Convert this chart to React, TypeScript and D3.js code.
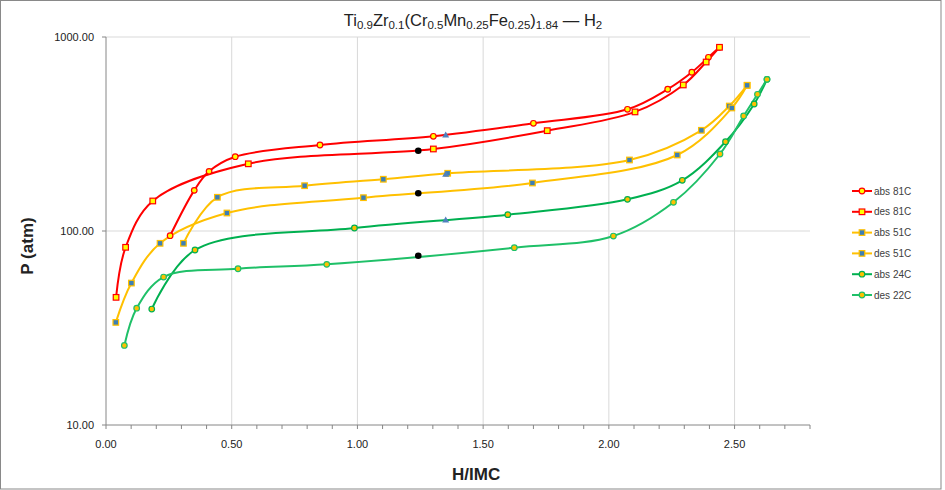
import React from "react";
import * as d3 from "d3";

// [H/IMC, P (atm)]
const abs81: [number, number][] = [
  [0.255, 94.6], [0.351, 162], [0.41, 203], [0.514, 241.5], [0.851, 277.5],
  [1.302, 307.7], [1.7, 359], [2.074, 424], [2.234, 538], [2.33, 658],
  [2.396, 786], [2.44, 885],
];
const des81: [number, number][] = [
  [2.44, 885], [2.387, 743], [2.296, 566], [2.104, 411], [1.755, 329],
  [1.302, 264.7], [0.566, 222], [0.186, 142.8], [0.078, 82.4], [0.04, 45.5],
];
const abs51: [number, number][] = [
  [0.308, 86.4], [0.443, 149.2], [0.79, 171.2], [1.103, 184.8], [1.359, 198.4],
  [2.082, 232.3], [2.368, 330.4], [2.479, 440.7], [2.55, 563.6],
];
const des51: [number, number][] = [
  [2.55, 563.6], [2.489, 430.7], [2.272, 246.5], [1.696, 176.8], [1.024, 148.5],
  [0.481, 123.8], [0.215, 86.4], [0.101, 53.9], [0.039, 33.8],
];
const abs24: [number, number][] = [
  [0.182, 39.6], [0.354, 79.8], [0.988, 103.6], [1.598, 121.4], [2.074, 145.6],
  [2.292, 182.5], [2.464, 288.6], [2.578, 451.6], [2.629, 605],
];
const des22: [number, number][] = [
  [2.629, 605], [2.591, 506.6], [2.536, 391.6], [2.442, 249.4], [2.257, 140.6],
  [2.018, 94.2], [1.624, 82], [0.878, 67.3], [0.525, 63.9], [0.229, 57.9],
  [0.122, 40], [0.073, 25.7],
];
// extra unlabeled points
const midDes: [number, number][] = [[1.242, 259.4], [1.242, 156.4], [1.242, 74.6]];
const midAbs: [number, number][] = [[1.351, 312.6], [1.351, 196], [1.351, 114]];

const xTicks = [0, 0.5, 1, 1.5, 2, 2.5];
const xMinor = d3.range(0, 29).map((i) => i / 10);
const yTicks = [10, 100, 1000];

interface Series {
  name: string;
  data: [number, number][];
  line: string;
  fill: string;
  stroke: string;
  shape: "circle" | "square";
}

const series: Series[] = [
  { name: "abs 81C", data: abs81, line: "#FF0000", fill: "#FFFF00", stroke: "#FF0000", shape: "circle" },
  { name: "des 81C", data: des81, line: "#FF0000", fill: "#FFFF00", stroke: "#FF0000", shape: "square" },
  { name: "abs 51C", data: abs51, line: "#FFC000", fill: "#3D7FB5", stroke: "#FFC000", shape: "square" },
  { name: "des 51C", data: des51, line: "#FFC000", fill: "#3D7FB5", stroke: "#FFC000", shape: "square" },
  { name: "abs 24C", data: abs24, line: "#00B050", fill: "#FFC000", stroke: "#00B050", shape: "circle" },
  { name: "des 22C", data: des22, line: "#1FC068", fill: "#FFC000", stroke: "#1FC068", shape: "circle" },
];

const titleParts: [string, boolean][] = [
  ["Ti", false], ["0.9", true], ["Zr", false], ["0.1", true], ["(Cr", false], ["0.5", true],
  ["Mn", false], ["0.25", true], ["Fe", false], ["0.25", true], [")", false], ["1.84", true],
  [" \u2014 H", false], ["2", true],
];

const Marker = ({ s, x, y }: { s: Series; x: number; y: number }) =>
  s.shape === "circle" ? (
    <circle cx={x} cy={y} r={2.8} fill={s.fill} stroke={s.stroke} strokeWidth={1.2} />
  ) : (
    <rect x={x - 2.8} y={y - 2.8} width={5.6} height={5.6} fill={s.fill} stroke={s.stroke} strokeWidth={1.2} />
  );

export default function App() {
  const W = 942;
  const H = 490;
  const x = d3.scaleLinear().domain([0, 2.8]).range([106, 810]);
  const y = d3.scaleLog().domain([10, 1000]).range([425, 37]);
  const line = d3
    .line<[number, number]>()
    .x((d) => x(d[0]))
    .y((d) => y(d[1]))
    .curve(d3.curveCatmullRom.alpha(0.5));
  const font = "'Liberation Sans', Arial, sans-serif";

  return (
    <svg width={W} height={H} style={{ position: "absolute", left: 0, top: 0, fontFamily: font }}>
      <rect x={0.5} y={0.5} width={W - 1.5} height={H - 1.5} fill="#fff" stroke="#898989" />

      {/* title */}
      <text x={473} y={26} textAnchor="middle" fontSize={16.5} fill="#222">
        {titleParts.map(([t, sub], i) => (
          <tspan
            key={i}
            fontSize={sub ? 11.5 : 16.5}
            dy={sub ? 3 : i === 0 ? 0 : -3}
          >
            {t}
          </tspan>
        ))}
      </text>

      {/* grid */}
      {yTicks.slice(1).map((t) => (
        <line key={t} x1={x(0)} x2={x(2.8)} y1={y(t)} y2={y(t)} stroke="#d9d9d9" />
      ))}
      {xTicks.slice(1).map((t) => (
        <line key={t} x1={x(t)} x2={x(t)} y1={y(10)} y2={y(1000)} stroke="#d9d9d9" />
      ))}

      {/* axes */}
      <line x1={x(0)} x2={x(0)} y1={y(10)} y2={y(1000)} stroke="#868686" />
      <line x1={x(0)} x2={x(2.8)} y1={y(10)} y2={y(10)} stroke="#868686" />
      {yTicks.map((t) => (
        <g key={t}>
          <line x1={x(0) - 4} x2={x(0)} y1={y(t)} y2={y(t)} stroke="#868686" />
          <text x={x(0) - 12} y={y(t)} dy="0.35em" textAnchor="end" fontSize={11} fill="#222">
            {t.toFixed(2)}
          </text>
        </g>
      ))}
      {xMinor.map((t) => (
        <line key={t} x1={x(t)} x2={x(t)} y1={y(10)} y2={y(10) + 4} stroke="#868686" />
      ))}
      {xTicks.map((t) => (
        <text key={t} x={x(t)} y={448} textAnchor="middle" fontSize={11} fill="#222">
          {t.toFixed(2)}
        </text>
      ))}
      <text x={452} y={480} fontSize={17} fontWeight="bold" fill="#222">H/IMC</text>
      <text
        transform="translate(33,246) rotate(-90)"
        textAnchor="middle"
        fontSize={17}
        fontWeight="bold"
        fill="#222"
      >
        P (atm)
      </text>

      {/* series */}
      {series.map((s) => (
        <path key={s.name} d={line(s.data) ?? ""} fill="none" stroke={s.line} strokeWidth={2} />
      ))}
      {series.map((s) =>
        s.data.map((d, i) => <Marker key={s.name + i} s={s} x={x(d[0])} y={y(d[1])} />)
      )}
      {midDes.map((d, i) => (
        <circle key={"m" + i} cx={x(d[0])} cy={y(d[1])} r={3.3} fill="#000" />
      ))}
      {midAbs.map((d, i) => {
        const cx = x(d[0]);
        const cy = y(d[1]);
        return (
          <path
            key={"t" + i}
            d={`M${cx},${cy - 3.5}L${cx + 3.5},${cy + 2.5}L${cx - 3.5},${cy + 2.5}Z`}
            fill="#4F81BD"
          />
        );
      })}

      {/* legend */}
      {series.map((s, i) => {
        const ly = 191 + i * 20.8;
        return (
          <g key={s.name}>
            <line x1={852} x2={872} y1={ly} y2={ly} stroke={s.line} strokeWidth={2} />
            <Marker s={s} x={862} y={ly} />
            <text x={874} y={ly} dy="0.35em" fontSize={10} fill="#404040">
              {s.name}
            </text>
          </g>
        );
      })}
    </svg>
  );
}
